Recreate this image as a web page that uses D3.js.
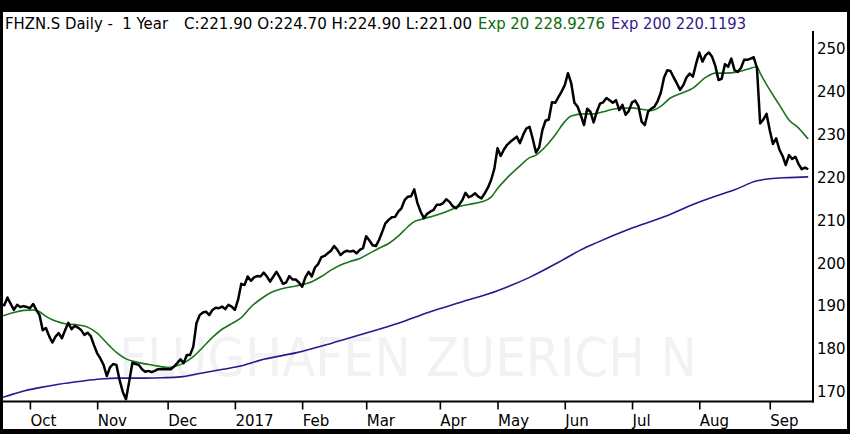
<!DOCTYPE html>
<html>
<head>
<meta charset="utf-8">
<script src="https://cdn.jsdelivr.net/npm/d3@7"></script>
<style>
  html, body { margin: 0; padding: 0; background: #000; }
  svg { display: block; }
  svg text { white-space: pre; }
</style>
</head>
<body>
<svg id="chart" width="850" height="434"></svg>
<script>
// ---- Data (trading-day index; 0 = first trading day of Oct 2016) ----
const closeStart = -9;
const closeValues = [
  190.5,190.2,192.0,190.5,189.1,190.3,189.8,190.0,189.8,
  189.5,190.5,189.1,187.9,184.4,184.9,183.0,181.5,182.9,183.7,
  182.5,184.4,186.1,184.6,185.4,185.0,184.4,183.3,183.8,183.0,
  180.9,179.0,177.8,176.3,173.7,175.7,176.5,176.3,172.8,170.0,
  168.3,172.4,176.8,176.5,176.3,175.3,174.7,174.9,174.6,174.9,
  175.3,175.3,175.3,175.3,175.3,175.9,176.7,177.6,176.7,178.6,
  178.6,180.5,186.0,187.9,188.5,188.7,187.9,189.1,189.6,189.5,
  189.9,189.3,190.3,189.9,189.1,191.5,195.2,194.9,196.9,195.9,
  196.7,197.0,196.9,197.8,196.9,195.7,196.9,198.0,196.7,195.2,
  195.5,197.0,196.2,196.2,195.5,194.5,196.7,198.0,196.9,199.0,
  199.8,201.4,201.7,202.3,202.9,204.0,203.1,201.9,202.6,202.9,
  202.7,202.9,202.3,203.1,203.5,206.3,205.3,204.2,204.0,205.4,
  207.3,209.3,210.1,210.7,210.8,212.0,212.8,214.7,215.5,215.6,
  217.2,214.0,212.0,210.5,211.5,212.0,212.4,213.6,213.6,214.0,
  214.9,214.3,213.3,212.8,213.6,214.7,216.4,215.4,215.7,216.3,
  215.5,215.1,216.3,217.6,219.4,222.0,226.8,225.0,226.5,227.6,
  228.3,228.9,229.5,228.0,229.9,231.4,231.8,229.0,225.8,227.0,
  231.0,233.2,233.5,237.5,237.4,238.7,240.0,241.5,244.3,242.0,
  237.4,236.5,234.5,232.2,236.0,235.3,232.8,235.3,237.2,237.5,
  238.5,238.0,237.4,238.0,235.7,236.9,234.6,235.5,237.5,237.9,
  236.6,233.0,232.2,235.3,236.0,236.5,237.8,239.8,243.3,245.0,
  244.8,243.3,241.9,240.4,241.5,243.3,244.2,243.5,246.5,249.1,
  247.0,248.5,249.1,248.1,246.0,242.7,243.0,246.4,245.8,247.7,
  245.0,244.6,245.5,247.4,247.4,247.7,248.0,245.5,232.6,233.5,
  234.8,231.0,227.8,229.1,226.5,225.0,222.9,225.2,224.3,224.8,
  223.1,221.9,222.3,221.9
];

const ema20Days = [-9,-5,-2,1,3,5,8,11,15,18,21,24,27,30,33,37,40,43,45,48,51,54,57,60,63,66,69,72,76,79,83,88,91,94,97,100,103,106,109,112,115,118,120,122,126,130,134,137,141,144,146,149,153,156,158,161,164,167,169,173,176,179,182,185,188,191,194,197,200,203,207,211,214,217,221,224,227,228,231,234,237,240,243];
const ema20Values = [187.6,188.5,189.0,189.1,188.7,187.6,186.5,185.9,185.6,185.1,183.7,181.4,179.2,177.7,177.0,176.4,176.0,175.7,175.9,176.7,178.2,180.4,182.7,184.6,185.9,187.3,189.8,191.6,193.4,194.1,194.7,195.7,196.9,198.4,199.6,200.4,201.1,202.3,203.5,204.6,206.3,208.5,209.7,210.2,211.0,212.0,213.2,213.7,214.3,215.4,217.4,219.9,222.7,224.6,225.2,227.2,229.9,233.0,234.3,234.8,234.8,235.3,235.9,236.1,236.2,235.9,235.6,236.6,238.5,239.5,240.8,243.3,244.3,244.3,244.6,245.2,245.8,244.3,240.4,236.9,233.4,231.5,228.93];

const ema200Days = [-9,-3,3,9,16,22,28,34,41,47,53,59,65,73,83,94,104,115,125,135,146,156,166,172,177,187,198,208,212,220,227,231,237,243];
const ema200Values = [168.6,170.0,171.0,171.8,172.5,173.0,173.2,173.2,173.3,173.5,174.3,175.1,175.9,177.6,179.1,181.3,183.5,186.0,188.7,191.0,193.6,196.7,200.6,203.1,204.8,207.9,210.8,214.0,215.1,217.1,219.2,219.7,219.95,220.12];

const monthTickDays = [0,21,43,64,85,105,128,146,167,188,209,231];
const monthTickLabels = ["Oct","Nov","Dec","2017","Feb","Mar","Apr","May","Jun","Jul","Aug","Sep"];
const priceTicks = [170,180,190,200,210,220,230,240,250];

const headerParts = [
  {text: "FHZN.S Daily -  1 Year", color: "#000"},
  {text: "C:221.90 O:224.70 H:224.90 L:221.00", color: "#000"},
  {text: "Exp 20 228.9276", color: "#0b6a0b"},
  {text: "Exp 200 220.1193", color: "#33198c"}
];
const watermark = "FLUGHAFEN ZUERICH N";

// ---- Drawing ----
const svg = d3.select("#chart");
const W = 850, H = 434;
const plot = {left: 3, right: 813, top: 30, bottom: 401.5};

svg.append("rect").attr("x",0).attr("y",0).attr("width",W).attr("height",H).attr("fill","#000");
svg.append("rect").attr("x",3).attr("y",12).attr("width",844).attr("height",417).attr("fill","#fff");

const x = d3.scaleLinear().domain([-8.4, 244.5]).range([plot.left, plot.right]);
const y = d3.scaleLinear().domain([170, 250]).range([391.9, 48.7]);

svg.append("defs").append("clipPath").attr("id","clip")
  .append("rect").attr("x",plot.left).attr("y",plot.top)
  .attr("width",plot.right-plot.left-1).attr("height",plot.bottom-plot.top);

// watermark
svg.append("text")
  .attr("x", (plot.left+plot.right)/2).attr("y", 376)
  .attr("text-anchor","middle")
  .attr("font-family","DejaVu Sans, sans-serif")
  .attr("font-size", 54)
  .attr("textLength", 578).attr("lengthAdjust","spacingAndGlyphs")
  .attr("fill","#f2f2f2")
  .text(watermark);

// header
const headerX = [5, 184, 478, 611];
const headerW = [163, 288, 127, 135];
const hdr = svg.append("g").attr("font-family","DejaVu Sans, sans-serif").attr("font-size",15);
headerParts.forEach((p,i) => {
  hdr.append("text").attr("x", headerX[i]).attr("y", 29)
    .attr("textLength", headerW[i]).attr("lengthAdjust","spacingAndGlyphs")
    .attr("fill", p.color).text(p.text);
});

// lines
const g = svg.append("g").attr("clip-path","url(#clip)");
const closeData = closeValues.map((v,i) => [closeStart + i, v]);
const ema20Data = ema20Days.map((d,i) => [d, ema20Values[i]]);
const ema200Data = ema200Days.map((d,i) => [d, ema200Values[i]]);

const line = d3.line().x(d => x(d[0])).y(d => y(d[1]));
const smooth = d3.line().x(d => x(d[0])).y(d => y(d[1])).curve(d3.curveMonotoneX);

g.append("path").datum(ema200Data).attr("d", smooth)
  .attr("fill","none").attr("stroke","#2e1490").attr("stroke-width",1.6);
g.append("path").datum(ema20Data).attr("d", smooth)
  .attr("fill","none").attr("stroke","#1b731b").attr("stroke-width",1.6);
g.append("path").datum(closeData).attr("d", line)
  .attr("fill","none").attr("stroke","#000").attr("stroke-width",2.5)
  .attr("stroke-linejoin","round");

// right axis
const yAxis = d3.axisRight(y).tickValues(priceTicks).tickSize(0).tickPadding(4).tickFormat(d3.format("d"));
const ya = svg.append("g").attr("transform",`translate(${plot.right},0)`).call(yAxis);
ya.select(".domain").remove();
ya.selectAll("text").attr("font-family","DejaVu Sans, sans-serif").attr("font-size",15).attr("fill","#000");
svg.append("line").attr("x1",plot.right).attr("x2",plot.right).attr("y1",31).attr("y2",plot.bottom+1)
  .attr("stroke","#000").attr("stroke-width",2);

// bottom axis
const xAxis = d3.axisBottom(x).tickValues(monthTickDays)
  .tickFormat((d,i) => monthTickLabels[i]).tickSize(8).tickPadding(6);
const xa = svg.append("g").attr("transform",`translate(0,${plot.bottom})`).call(xAxis);
xa.select(".domain").remove();
xa.selectAll(".tick line").attr("stroke","#000").attr("stroke-width",1.6);
xa.selectAll("text").attr("font-family","DejaVu Sans, sans-serif").attr("font-size",15)
  .attr("fill","#000").attr("text-anchor","start").attr("x",0).attr("dy","0.71em");
svg.append("line").attr("x1",plot.left).attr("x2",plot.right+1).attr("y1",plot.bottom).attr("y2",plot.bottom)
  .attr("stroke","#000").attr("stroke-width",2);
</script>
</body>
</html>
